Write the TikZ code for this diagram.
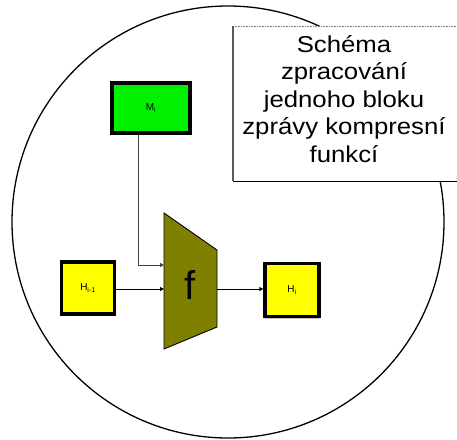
\documentclass[tikz,border=0pt]{standalone}
\usepackage{fontspec}
\setmainfont{Liberation Sans}
\usetikzlibrary{arrows.meta,shadows}
\definecolor{olivef}{RGB}{128,128,0}
\definecolor{greenf}{RGB}{0,240,0}
\definecolor{yellowf}{RGB}{255,255,0}
\tikzset{
  blk/.style={draw=black, line width=3.4pt, minimum width=#1, inner sep=0pt,
    font=\fontsize{10}{11}\selectfont,
    drop shadow={shadow xshift=0pt, shadow yshift=-2pt, fill=black!25, opacity=1}},
  wire/.style={line width=1pt, -{Triangle[length=4pt,width=4pt]}},
}
\begin{document}
\begin{tikzpicture}[x=1pt,y=-1pt]
\useasboundingbox (0,0) rectangle (457,439);
\clip (0,0) rectangle (457,439);
% outer ring
\draw[line width=1.3pt] (228,222) circle (216);
% caption box
\node[draw=none, fill=white, minimum width=240pt, minimum height=155pt, anchor=north west, inner sep=0pt] (cap) at (233,26) {};
\draw[gray, line width=1pt, dash pattern=on 1pt off 0.6pt] (cap.north west) -- (cap.north east);
\draw[gray!70!black, line width=1.6pt] (cap.north west) -- (cap.south west);
\draw[black, line width=1.6pt] (cap.south west) -- (cap.south east);
\node[align=center, font=\fontsize{23}{27.5}\selectfont, xscale=1.12, inner sep=0pt] (captxt) at (344,99)
  {Schéma\\zpracování\\jednoho bloku\\zprávy kompresní\\funkcí};
% blocks
\node[blk=78pt, minimum height=50pt, fill=greenf] (m) at (151,108) {M\textsubscript{i}};
\node[blk=53pt, minimum height=52pt, fill=yellowf] (hp) at (88,288) {H\textsubscript{i-1}};
\node[blk=54pt, minimum height=53pt, fill=yellowf] (hn) at (292,290) {H\textsubscript{i}};
% compression function
\draw[fill=olivef, line width=0.9pt] (164,213) -- (217,250) -- (217,327) -- (164,349) -- cycle;
\coordinate (mx) at (138,0);
\coordinate (fl1) at (164,265);
\coordinate (fl2) at (164,289);
\coordinate (fr) at (217,289);
\node[font=\fontsize{40}{40}\selectfont] (f) at (190,285) {f};
% connections
\draw[wire, draw=black!75] (m.south -| mx) |- (fl1);
\draw[wire] (hp.east |- fl2) -- (fl2);
\draw[wire] (fr) -- (hn.west |- fr);
\end{tikzpicture}
\end{document}
